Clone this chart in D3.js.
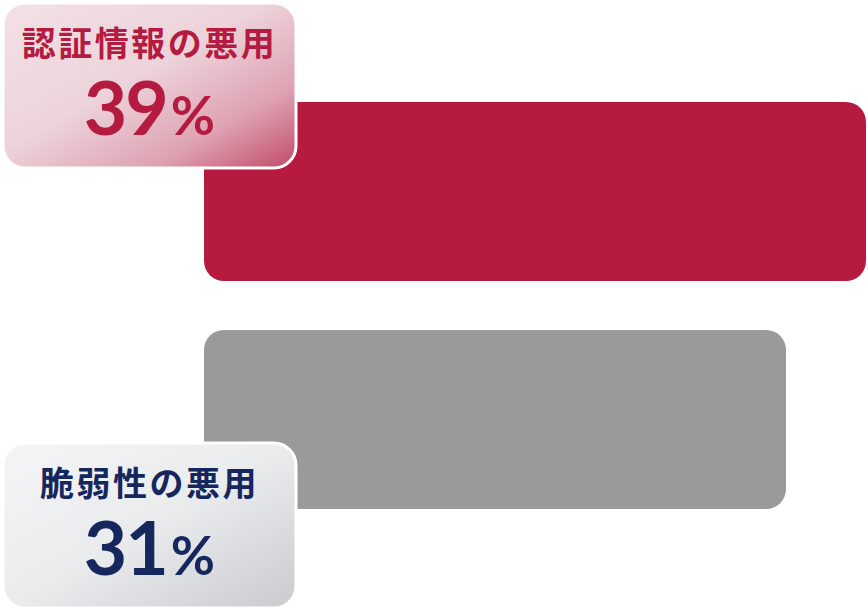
<!DOCTYPE html>
<html>
<head>
<meta charset="utf-8">
<script src="https://cdn.jsdelivr.net/npm/d3@7"></script>
<style>
	html, body { margin: 0; padding: 0; background: #fff; }
	svg { display: block; }
</style>
</head>
<body>
<div id="container"></div>
<script>
const categories = ["認証情報の悪用", "脆弱性の悪用"];
const values = [39, 31];
const valueLabels = ["39", "31"];
const unitLabel = "%";

window.addEventListener("load", () => drawChart());

function drawChart() {
	const width = 868;
	const height = 612;
	const barStart = 204;

	const barColors = ["#b61a3e", "#9a9a9a"];
	const textColors = ["#b51a40", "#15275d"];

	const svg = d3
		.select("#container")
		.append("svg")
		.attr("width", width)
		.attr("height", height);

	const defs = svg.append("defs");
	makeGradient("grad-0", [
		["0%", "#f2e1e6"],
		["45%", "#edd3db"],
		["75%", "#dea2b2"],
		["100%", "#c24a67"],
	]);
	makeGradient("grad-1", [
		["0%", "#f4f5f7"],
		["50%", "#eaebed"],
		["100%", "#cacbce"],
	]);

	// bars don't start at zero on the source, only the end follows the value
	const x = d3.scaleLinear().domain([0, 39]).range([476, 866]);

	const y = d3
		.scaleBand()
		.domain(categories)
		.range([102, 509])
		.paddingInner(0.215)
		.paddingOuter(0);

	svg
		.append("g")
		.attr("class", "bars")
		.selectAll("rect")
		.data(categories)
		.enter()
		.append("rect")
		.attr("x", barStart)
		.attr("y", (d) => y(d))
		.attr("width", (d, i) => x(values[i]) - barStart)
		.attr("height", y.bandwidth())
		.attr("rx", 20)
		.attr("fill", (d, i) => barColors[i]);

	// label cards, top one sticks up over the first bar, bottom one hangs under the second
	const boxW = 293;
	const boxH = 165;
	const boxY = (d, i) => (i === 0 ? y(d) - 99 : y(d) + y.bandwidth() + 99 - boxH);

	const cards = svg
		.append("g")
		.attr("class", "cards")
		.selectAll("g")
		.data(categories)
		.enter()
		.append("g")
		.attr("transform", (d, i) => `translate(3, ${boxY(d, i)})`);

	cards
		.append("rect")
		.attr("width", boxW)
		.attr("height", boxH)
		.attr("rx", 22)
		.attr("fill", (d, i) => `url(#grad-${i})`)
		.attr("stroke", "#fff")
		.attr("stroke-width", 3);

	cards
		.append("text")
		.attr("x", boxW / 2)
		.attr("y", 53)
		.attr("text-anchor", "middle")
		.attr("font-family", "'Noto Sans CJK JP', sans-serif")
		.attr("font-weight", 700)
		.attr("font-size", 34)
		.attr("letter-spacing", 2.5)
		.attr("fill", (d, i) => textColors[i])
		.text((d) => d);

	const num = cards
		.append("text")
		.attr("x", boxW / 2)
		.attr("y", 132)
		.attr("text-anchor", "middle")
		.attr("font-family", "Lato, sans-serif")
		.attr("font-weight", 700)
		.attr("fill", (d, i) => textColors[i]);

	num
		.append("tspan")
		.attr("font-size", 75)
		.attr("letter-spacing", -2)
		.text((d, i) => valueLabels[i]);

	num
		.append("tspan")
		.attr("font-size", 54)
		.attr("dx", 4)
		.text(unitLabel);

	function makeGradient(id, stops) {
		const g = defs
			.append("linearGradient")
			.attr("id", id)
			.attr("x1", "0%")
			.attr("y1", "0%")
			.attr("x2", "100%")
			.attr("y2", "100%");
		g.selectAll("stop")
			.data(stops)
			.enter()
			.append("stop")
			.attr("offset", (s) => s[0])
			.attr("stop-color", (s) => s[1]);
	}
}
</script>
</body>
</html>
